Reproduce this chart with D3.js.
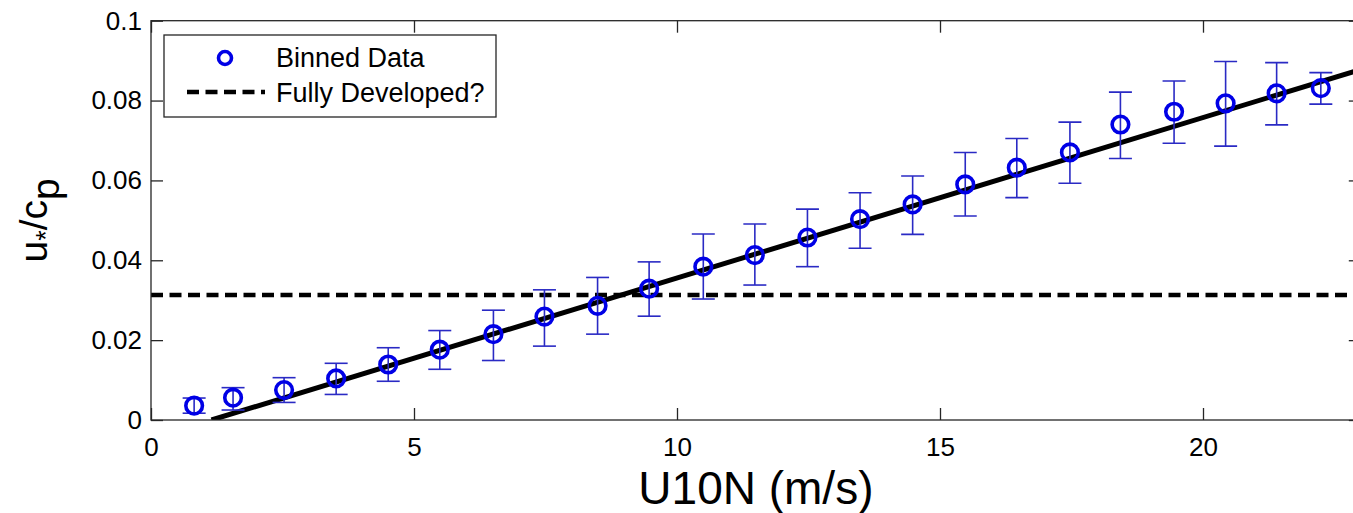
<!DOCTYPE html>
<html>
<head>
<meta charset="utf-8">
<script src="https://cdn.jsdelivr.net/npm/d3@7"></script>
<style>
  html, body { margin: 0; padding: 0; background: #fff; }
  svg { display: block; font-family: "Liberation Sans", Arial, sans-serif; }
</style>
</head>
<body>
<svg id="chart" width="1353" height="513"></svg>
<script>
// Binned wave-age data: bin centre wind speed (m/s), mean u*/cp, and error-bar bounds
const windSpeed = [0.82, 1.56, 2.53, 3.52, 4.51, 5.49, 6.51, 7.48, 8.49, 9.47, 10.5, 11.48,
                   12.48, 13.48, 14.48, 15.48, 16.46, 17.47, 18.43, 19.45, 20.43, 21.40, 22.24];
const waveAge   = [0.0036, 0.0056, 0.0075, 0.0104, 0.0139, 0.0176, 0.0215, 0.0259, 0.0286, 0.0329, 0.0384, 0.0413,
                   0.0457, 0.0503, 0.0540, 0.0590, 0.0632, 0.0670, 0.0740, 0.0772, 0.0793, 0.0818, 0.0831];
const errUpper  = [0.0055, 0.0081, 0.0106, 0.0142, 0.0181, 0.0224, 0.0275, 0.0326, 0.0357, 0.0396, 0.0466, 0.0491,
                   0.0528, 0.0569, 0.0611, 0.0670, 0.0705, 0.0746, 0.0821, 0.0849, 0.0898, 0.0895, 0.0870];
const errLower  = [0.0017, 0.0025, 0.0044, 0.0064, 0.0097, 0.0127, 0.0149, 0.0185, 0.0215, 0.0260, 0.0303, 0.0338,
                   0.0384, 0.0430, 0.0465, 0.0511, 0.0557, 0.0593, 0.0655, 0.0693, 0.0686, 0.0739, 0.0791];

// Linear fit endpoints
const fitX = [1.15, 23];
const fitY = [0, 0.0878];

// Fully developed sea threshold
const fullyDeveloped = 0.0313;

const xTicks = [0, 5, 10, 15, 20];
const yTicks = [0, 0.02, 0.04, 0.06, 0.08, 0.1];
const yTickLabels = ["0", "0.02", "0.04", "0.06", "0.08", "0.1"];
const xDomain = [0, 23];
const yDomain = [0, 0.1];

const legendLabels = ["Binned Data", "Fully Developed?"];

const svg = d3.select("#chart");
const pLeft = 151, pTop = 20.7, pBottom = 420, pRight = 1360.8;

const x = d3.scaleLinear().domain(xDomain).range([pLeft, pRight]);
const y = d3.scaleLinear().domain(yDomain).range([pBottom, pTop]);

const axisColor = "#262626";
const markerBlue = "#0000e6";
const barBlue = "#2a2ac4";

svg.append("defs").append("clipPath").attr("id", "plotClip")
  .append("rect").attr("x", pLeft).attr("y", pTop).attr("width", pRight - pLeft).attr("height", pBottom - pTop);

const plot = svg.append("g").attr("clip-path", "url(#plotClip)");

// Dashed threshold line
plot.append("line")
  .attr("x1", x(xDomain[0])).attr("x2", x(xDomain[1]))
  .attr("y1", y(fullyDeveloped)).attr("y2", y(fullyDeveloped))
  .attr("stroke", "#000").attr("stroke-width", 4.5).attr("stroke-dasharray", "12,6.5");

// Fit line
plot.append("path")
  .datum(fitX.map((d, i) => [d, fitY[i]]))
  .attr("d", d3.line().x(d => x(d[0])).y(d => y(d[1])))
  .attr("stroke", "#000").attr("stroke-width", 5).attr("fill", "none");

// Error bars
const bars = plot.append("g").attr("stroke", barBlue).attr("stroke-width", 1.6).attr("fill", "none");
const capHalf = 11.5;
windSpeed.forEach((ws, i) => {
  const cx = x(ws);
  bars.append("line").attr("x1", cx).attr("x2", cx).attr("y1", y(errUpper[i])).attr("y2", y(errLower[i]));
  bars.append("line").attr("x1", cx - capHalf).attr("x2", cx + capHalf).attr("y1", y(errUpper[i])).attr("y2", y(errUpper[i]));
  bars.append("line").attr("x1", cx - capHalf).attr("x2", cx + capHalf).attr("y1", y(errLower[i])).attr("y2", y(errLower[i]));
});

// Markers
plot.append("g").selectAll("circle")
  .data(windSpeed.map((d, i) => [d, waveAge[i]]))
  .join("circle")
  .attr("cx", d => x(d[0])).attr("cy", d => y(d[1])).attr("r", 8.3)
  .attr("fill", "none").attr("stroke", markerBlue).attr("stroke-width", 3.6);

// Axes box
const axes = svg.append("g").attr("stroke", axisColor).attr("stroke-width", 1.3).attr("fill", "none");
axes.append("rect").attr("x", pLeft).attr("y", pTop).attr("width", pRight - pLeft).attr("height", pBottom - pTop);

const tickLen = 12;
const xAxisB = d3.axisBottom(x).tickValues(xTicks).tickSizeInner(-tickLen).tickSizeOuter(0).tickPadding(18)
  .tickFormat(d3.format("d"));
const gxb = svg.append("g").attr("transform", `translate(0,${pBottom})`).call(xAxisB);
const xAxisT = d3.axisTop(x).tickValues(xTicks).tickSizeInner(-tickLen).tickSizeOuter(0).tickFormat("");
const gxt = svg.append("g").attr("transform", `translate(0,${pTop})`).call(xAxisT);

const yAxisL = d3.axisLeft(y).tickValues(yTicks).tickSizeInner(-tickLen).tickSizeOuter(0).tickPadding(9)
  .tickFormat((d, i) => yTickLabels[i]);
const gyl = svg.append("g").attr("transform", `translate(${pLeft},0)`).call(yAxisL);
const yAxisR = d3.axisRight(y).tickValues(yTicks).tickSizeInner(-tickLen).tickSizeOuter(0).tickFormat("");
const gyr = svg.append("g").attr("transform", `translate(${pRight},0)`).call(yAxisR);

[gxb, gxt, gyl, gyr].forEach(g => {
  g.select(".domain").remove();
  g.selectAll(".tick line").attr("stroke", axisColor).attr("stroke-width", 1.3);
  g.selectAll(".tick text").attr("fill", "#000").attr("font-size", 26)
    .attr("font-family", "'Liberation Sans', Arial, sans-serif");
});
gxb.selectAll(".tick text").attr("dy", "0.71em");

// Axis labels
svg.append("text")
  .attr("x", (pLeft + pRight) / 2).attr("y", 504)
  .attr("text-anchor", "middle").attr("font-size", 46).attr("fill", "#000")
  .text("U10N (m/s)");

const yl = svg.append("text")
  .attr("transform", `translate(47,${(pTop + pBottom) / 2}) rotate(-90)`)
  .attr("text-anchor", "middle").attr("font-size", 39).attr("fill", "#000");
yl.append("tspan").text("u");
yl.append("tspan").attr("font-size", 27).attr("dy", 8).text("*");
yl.append("tspan").attr("dy", -8).text("/c");
yl.append("tspan").attr("font-size", 39).attr("dy", 12).text("p");

// Legend
const lg = svg.append("g");
lg.append("rect").attr("x", 164).attr("y", 35).attr("width", 332).attr("height", 82)
  .attr("fill", "#fff").attr("stroke", axisColor).attr("stroke-width", 1.3);
lg.append("circle").attr("cx", 225).attr("cy", 58).attr("r", 6.5)
  .attr("fill", "none").attr("stroke", markerBlue).attr("stroke-width", 3.6);
lg.append("line").attr("x1", 187).attr("x2", 265).attr("y1", 92).attr("y2", 92)
  .attr("stroke", "#000").attr("stroke-width", 4.5).attr("stroke-dasharray", "12,6.5");
lg.selectAll("text.lab").data(legendLabels).join("text").attr("class", "lab")
  .attr("x", 276).attr("y", (d, i) => 67 + i * 35)
  .attr("font-size", 27).attr("fill", "#000").text(d => d);
</script>
</body>
</html>
